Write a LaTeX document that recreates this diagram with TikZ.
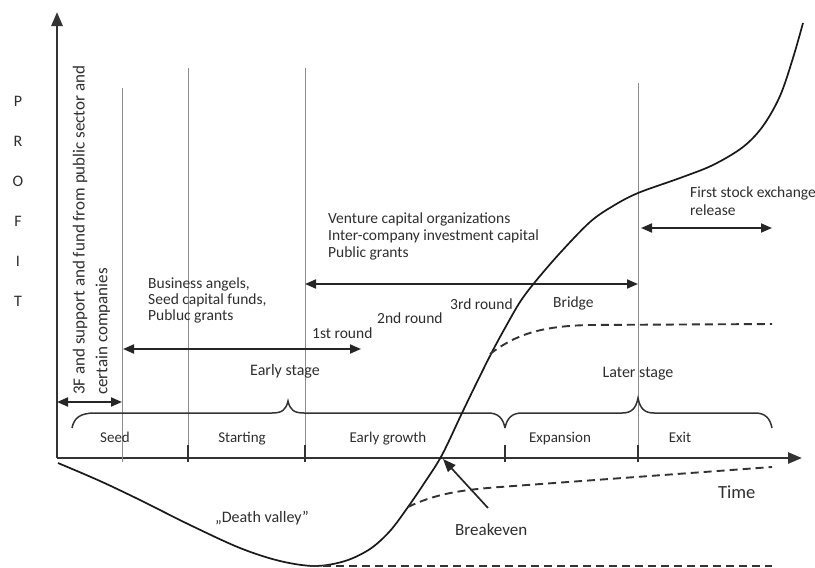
\documentclass[tikz,border=0pt]{standalone}
\usepackage{fontspec}
\setmainfont{Carlito}
\usetikzlibrary{arrows.meta}
\begin{document}
\begin{tikzpicture}[x=1pt,y=-1pt,
  txt/.style={text=black!82, font=\fontsize{15.5}{16}\selectfont, inner sep=0pt},
  lbl/.style={text=black!82, font=\fontsize{15}{16}\selectfont, inner sep=0pt, anchor=base},
  stage/.style={text=black!82, font=\fontsize{16}{17}\selectfont, inner sep=0pt, anchor=base},
  axis/.style={line width=2.6pt, draw=black!80, -{Triangle[length=14pt,width=11pt]}},
  dbl/.style={line width=1.9pt, draw=black!85, {Triangle[length=11pt,width=9pt]}-{Triangle[length=11pt,width=9pt]}},
  guide/.style={line width=0.9pt, draw=black!45},
  tick/.style={line width=1.6pt, draw=black!80},
  brace/.style={line width=1.5pt, draw=black!80},
  curve/.style={line width=1.7pt, draw=black!90},
  dashline/.style={line width=1.9pt, draw=black!80, dash pattern=on 8pt off 5pt}]
\useasboundingbox (0,0) rectangle (815,568);

% axes
\coordinate (o) at (57,458);
\coordinate (ytip) at (57,12);
\coordinate (xtip) at (802,458);
\draw[axis] (o) -- (ytip);
\draw[axis] (o) -- (xtip);

% guide lines
\coordinate (g1t) at (122,88);  \coordinate (g1b) at (122,462);
\coordinate (g2t) at (188,68);  \coordinate (g2b) at (188,445);
\coordinate (g3t) at (305,68);  \coordinate (g3b) at (305,445);
\coordinate (g4t) at (638,83);  \coordinate (g4b) at (638,445);
\draw[guide] (g1t) -- (g1b);
\draw[guide] (g2t) -- (g2b);
\draw[guide] (g3t) -- (g3b);
\draw[guide] (g4t) -- (g4b);

% ticks
\foreach \x/\n in {188/a,305/b,505/c,638/d}{
  \coordinate (t\n1) at (\x,445); \coordinate (t\n2) at (\x,462);
  \draw[tick] (t\n1) -- (t\n2);
}

% braces
\draw[brace] (72,428) .. controls (74,418) and (80,413) .. (95,413) -- (272,413)
  .. controls (282,413) and (286,410) .. (288,401) .. controls (290,410) and (294,413) .. (304,413)
  -- (488,413) .. controls (498,413) and (503,418) .. (505,428);
\draw[brace] (505,428) .. controls (507,418) and (512,413) .. (522,413) -- (622,413)
  .. controls (632,413) and (636,408) .. (638,398) .. controls (640,408) and (644,413) .. (654,413)
  -- (755,413) .. controls (765,413) and (770,418) .. (772,428);

% stage labels
\node[lbl] (seed) at (115,442) {Seed};
\node[lbl] (start) at (242,442) {Starting};
\node[lbl] (early) at (388,442) {Early growth};
\node[lbl] (exp) at (560,442) {Expansion};
\node[lbl] (exit) at (680,442) {Exit};
\node[stage] (es) at (285,375) {Early stage};
\node[stage] (ls) at (638,377) {Later stage};

% double arrows
\coordinate (a1l) at (57,402);  \coordinate (a1r) at (122,402);
\draw[dbl] (a1l) -- (a1r);
\coordinate (a2l) at (123,349); \coordinate (a2r) at (361,349);
\draw[dbl] (a2l) -- (a2r);
\coordinate (a3l) at (305,284); \coordinate (a3r) at (638,284);
\draw[dbl] (a3l) -- (a3r);
\coordinate (a4l) at (641,228); \coordinate (a4r) at (772,228);
\draw[dbl] (a4l) -- (a4r);

% rotated text
\node[text=black!82, font=\fontsize{17}{18}\selectfont, inner sep=0pt, rotate=90, anchor=west] (f1) at (80,395) {3F and support  and fund from public  sector and};
\node[text=black!82, font=\fontsize{17}{18}\selectfont, inner sep=0pt, rotate=90, anchor=west] (f2) at (103,395) {certain companies};

% text blocks
\node[txt, anchor=base west] (ba1) at (148,288) {Business angels,};
\node[txt, anchor=base west] (ba2) at (148,304) {Seed capital funds,};
\node[txt, anchor=base west] (ba3) at (148,320) {Publuc grants};
\node[txt, anchor=base west] (vc1) at (328,223) {Venture capital organizations};
\node[txt, anchor=base west] (vc2) at (328,240) {Inter-company investment capital};
\node[txt, anchor=base west] (vc3) at (328,257) {Public grants};
\node[txt, anchor=base west] (fs1) at (690,197) {First stock exchange};
\node[txt, anchor=base west] (fs2) at (690,215) {release};

\node[txt, anchor=base west] (r1) at (312,338) {1st round};
\node[txt, anchor=base west] (r2) at (377,323) {2nd round};
\node[txt, anchor=base west] (r3) at (450,309) {3rd round};
\node[txt, anchor=base west] (br) at (553,307) {Bridge};

% PROFIT
\node[text=black!82, font=\fontsize{16}{40}\selectfont, align=center, inner sep=0pt, anchor=north] (profit) at (18,96) {P\\R\\O\\F\\I\\T};

% main curve
\draw[curve] plot[smooth, tension=0.55] coordinates {
 (58,463) (100,481) (140,500) (190,525) (240,548) (280,561) (315,566) (345,561)
 (370,549) (390,531) (408,507) (425,482) (442,455) (462,413) (478,380) (492,352)
 (505,328) (520,302) (535,282) (560,253) (590,222) (613,206) (638,193) (680,178)
 (713,165) (743,147) (763,126) (780,96) (793,58) (803,23)};

% dashed alternatives
\coordinate (d1s) at (408,507); \coordinate (d1e) at (772,467);
\draw[dashline] (d1s) .. controls (435,494) and (460,490) .. (500,487) -- (d1e);
\coordinate (d2s) at (490,354); \coordinate (d2e) at (772,324);
\draw[dashline] (d2s) .. controls (515,335) and (540,326) .. (590,325) -- (d2e);
\coordinate (d3s) at (310,566); \coordinate (d3e) at (772,566);
\draw[dashline] (d3s) -- (d3e);

% breakeven
\coordinate (bk) at (488,508); \coordinate (be) at (443,459);
\draw[line width=1.7pt, draw=black!85, -{Triangle[length=13pt,width=10pt]}] (bk) -- (be);
\node[text=black!82, font=\fontsize{17}{18}\selectfont, inner sep=0pt, anchor=base west] (bkl) at (455,535) {Breakeven};
\node[text=black!82, font=\fontsize{18.5}{19}\selectfont, inner sep=0pt, anchor=base west] (time) at (718,498) {Time};
\node[text=black!82, font=\fontsize{16}{17}\selectfont, inner sep=0pt, anchor=base] (dv) at (262,522) {„Death valley''};
\end{tikzpicture}
\end{document}
